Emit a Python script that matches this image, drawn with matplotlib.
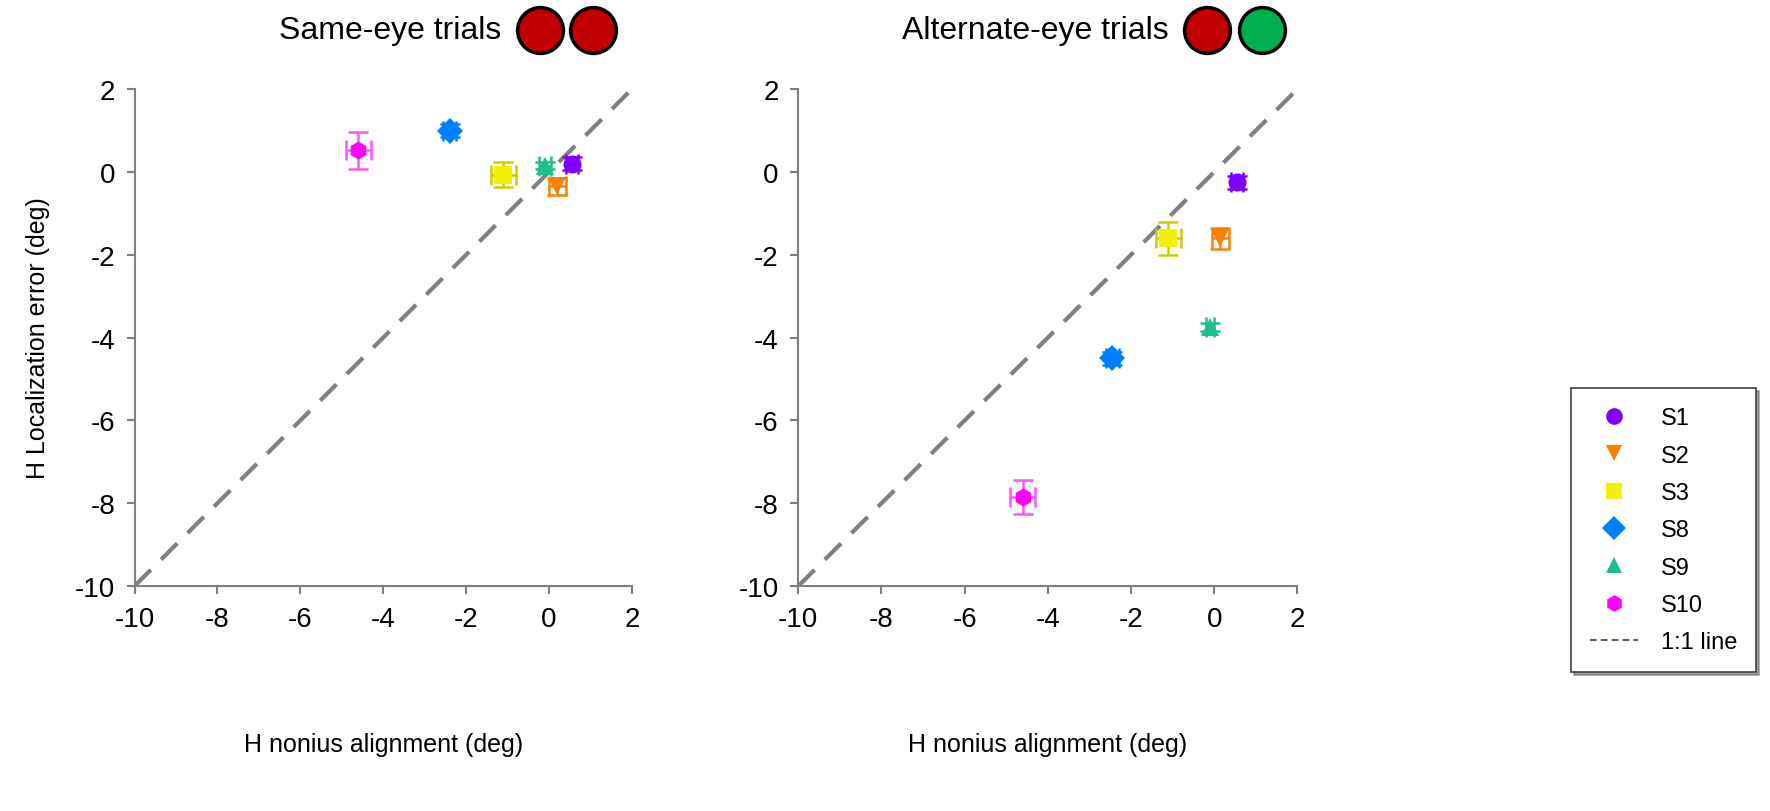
import matplotlib
matplotlib.use("Agg")
import matplotlib.pyplot as plt
from matplotlib.lines import Line2D
import numpy as np

plt.rcParams['font.family'] = ['Liberation Sans', 'DejaVu Sans']
plt.rcParams['axes.unicode_minus'] = False

# subjects and marker styles
subjects = ['S1', 'S2', 'S3', 'S8', 'S9', 'S10']
markers = ['o', 'v', 's', 'D', '^', 'h']
colors = ['#8000ff', '#ff7f00', '#f2f200', '#0080ff', '#1dbf8c', '#ff00ff']
err_colors = ['#8000ff', '#ff7f00', '#cccc00', '#0080ff', '#1dbf8c', '#ff55ff']

# same-eye trials
same_x = [0.55, 0.2, -1.1, -2.4, -0.1, -4.6]
same_y = [0.2, -0.35, -0.07, 1.0, 0.15, 0.52]
same_xerr = [0.15, 0.2, 0.3, 0.15, 0.15, 0.3]
same_yerr = [0.15, 0.2, 0.3, 0.15, 0.08, 0.45]

# alternate-eye trials
alt_x = [0.55, 0.15, -1.1, -2.45, -0.1, -4.6]
alt_y = [-0.25, -1.6, -1.6, -4.5, -3.75, -7.85]
alt_xerr = [0.15, 0.2, 0.3, 0.15, 0.1, 0.3]
alt_yerr = [0.15, 0.25, 0.4, 0.15, 0.1, 0.4]

ticks = [-10, -8, -6, -4, -2, 0, 2]

fig = plt.figure(figsize=(17.7, 8.12), dpi=100)
ax1 = fig.add_axes([0.076, 0.277, 0.281, 0.612])
ax2 = fig.add_axes([0.451, 0.277, 0.282, 0.612])

def draw_panel(ax, xs, ys, xerr, yerr, ylabel=True):
    ax.plot([-10, 2], [-10, 2], color='#808080', lw=3, dashes=(5.5, 3.5), zorder=1)
    for i in range(len(subjects)):
        ax.errorbar(xs[i], ys[i], xerr=xerr[i], yerr=yerr[i], fmt='none',
                    ecolor=err_colors[i], elinewidth=1.8, capsize=7, capthick=1.8, zorder=2)
        ax.plot(xs[i], ys[i], marker=markers[i], color=colors[i], ms=13,
                markeredgewidth=0, linestyle='none', zorder=3)
    ax.set_xlim(-10, 2)
    ax.set_ylim(-10, 2)
    ax.set_xticks(ticks)
    ax.set_yticks(ticks)
    ax.tick_params(labelsize=20, length=6, width=1.5, color='#808080', pad=8)
    for s in ['top', 'right']:
        ax.spines[s].set_visible(False)
    for s in ['left', 'bottom']:
        ax.spines[s].set_color('#808080')
        ax.spines[s].set_linewidth(1.5)
    ax.set_xlabel('H nonius alignment (deg)', fontsize=18, labelpad=72)
    if ylabel:
        ax.set_ylabel('H Localization error (deg)', fontsize=18, labelpad=18)

draw_panel(ax1, same_x, same_y, same_xerr, same_yerr)
draw_panel(ax2, alt_x, alt_y, alt_xerr, alt_yerr, ylabel=False)

# panel titles with eye indicators
eye_y = 0.962
fig.text(0.283, eye_y, 'Same-eye trials', fontsize=23, ha='right', va='center')
fig.text(0.660, eye_y, 'Alternate-eye trials', fontsize=23, ha='right', va='center')
for cx, col in [(0.305, '#c00000'), (0.335, '#c00000'),
                (0.682, '#c00000'), (0.713, '#00b050')]:
    fig.add_artist(Line2D([cx], [eye_y], marker='o', ms=33, color=col,
                          markeredgecolor='black', markeredgewidth=2.5,
                          transform=fig.transFigure))

# legend
handles = [Line2D([], [], marker=m, color=c, linestyle='none', ms=12, markeredgewidth=0)
           for m, c in zip(markers, colors)]
handles.append(Line2D([], [], color='#404040', lw=1.2, dashes=(4, 2.5)))
labels = subjects + ['1:1 line']
leg = fig.legend(handles, labels, loc='upper right', bbox_to_anchor=(0.999, 0.535),
                 fontsize=17, frameon=True, fancybox=False, shadow=True,
                 handlelength=2.0, labelspacing=0.65, borderpad=0.8, handletextpad=1.0)
leg.get_frame().set_edgecolor('#404040')
leg.get_frame().set_linewidth(1.2)

fig.savefig('out.png', dpi=100)
